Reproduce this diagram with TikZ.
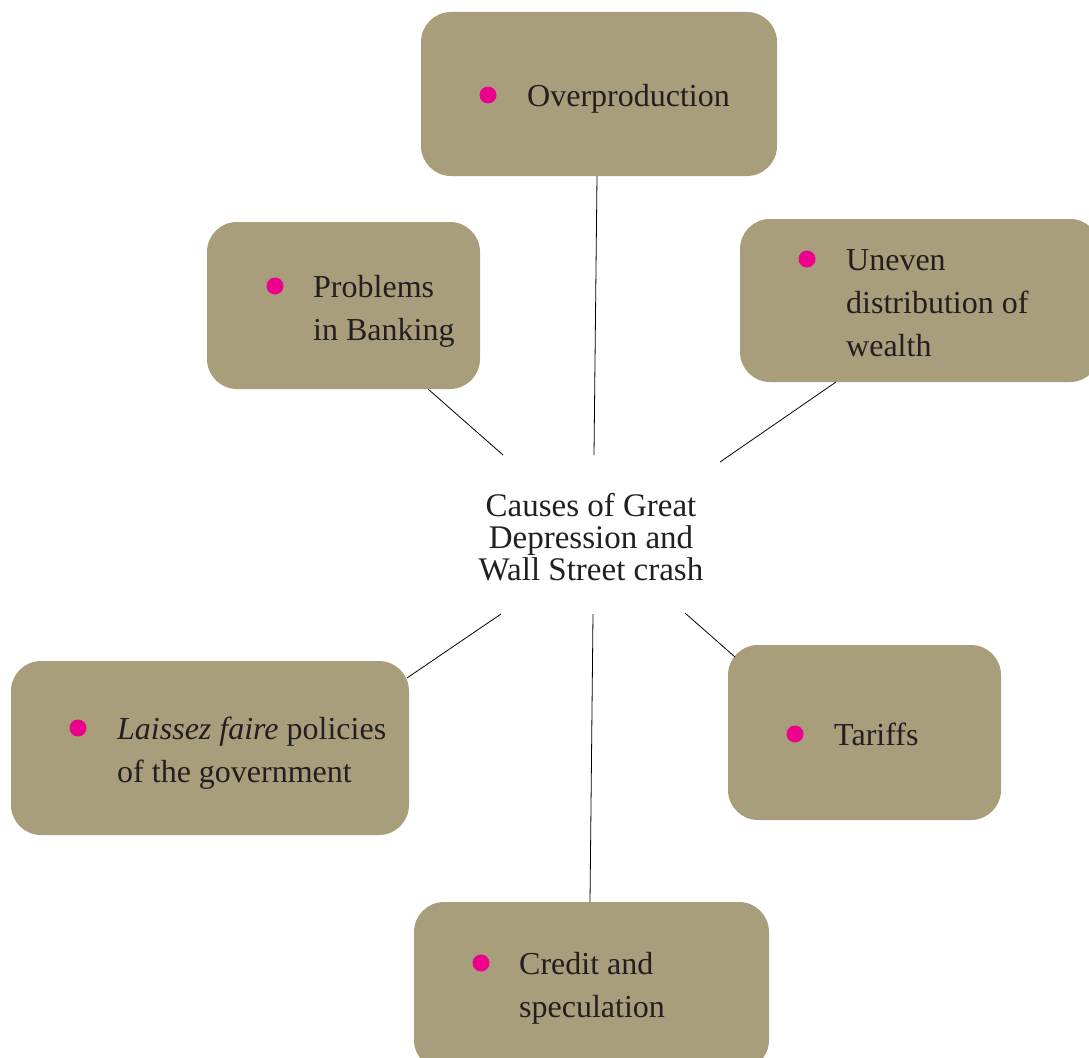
\documentclass[tikz,border=0pt]{standalone}
\usepackage{fontspec}
\setmainfont{Liberation Serif}
\definecolor{boxfill}{HTML}{A89E7C}
\definecolor{bulletc}{HTML}{EC008C}
\definecolor{txt}{HTML}{231F20}
\begin{document}
\begin{tikzpicture}[x=1pt,y=-1pt,
  causebox/.style={fill=boxfill, rounded corners=30pt, inner sep=0pt},
  bul/.style={circle, fill=bulletc, inner sep=0pt, minimum size=17pt},
  label/.style={anchor=base west, inner sep=0pt, align=left, text=txt,
    font=\fontsize{32}{43}\selectfont},
  conn/.style={draw=black, line width=0.8pt}]
\useasboundingbox (0,0) rectangle (1089,1057);
% boxes
\path[causebox] (421,12) rectangle (777,176);
\coordinate (overB) at (597,176);
\path[causebox] (207,222) rectangle (480,389);
\coordinate (bankB) at (428,389);
\path[causebox] (740,219) rectangle (1100,382);
\coordinate (unevB) at (836,382);
\path[causebox] (11,661) rectangle (409,835);
\coordinate (laisT) at (407,678);
\path[causebox] (728,645) rectangle (1001,820);
\coordinate (tarT) at (735,657);
\path[causebox] (414,902) rectangle (769,1070);
\coordinate (credT) at (590,902);
% bullets and texts (base anchor = baseline of last line)
\node[bul] (b1) at (488,95) {};
\node[label] (t1) at (527,106) {Overproduction};
\node[bul] (b2) at (275,286) {};
\node[label] (t2) at (313,340) {Problems\\in Banking};
\node[bul] (b3) at (807,259) {};
\node[label] (t3) at (846,356) {Uneven\\distribution of\\wealth};
\node[bul] (b4) at (78,728) {};
\node[label] (t4) at (117,782) {\textit{Laissez faire} policies\\of the government};
\node[bul] (b5) at (795,734) {};
\node[label] (t5) at (834,745) {Tariffs};
\node[bul] (b6) at (481,963) {};
\node[label] (t6) at (519,1017) {Credit and\\speculation};
% centre
\node[anchor=base, align=center, inner sep=0pt, text=txt,
  font=\fontsize{33}{32}\selectfont] (centre) at (591,580)
  {Causes of Great\\Depression and\\Wall Street crash};
\coordinate (c1) at (594,455);
\coordinate (c2) at (503,455);
\coordinate (c3) at (720,462);
\coordinate (c4) at (501,614);
\coordinate (c5) at (685,613);
\coordinate (c6) at (593,614);
% connectors
\draw[conn] (overB) -- (c1);
\draw[conn] (bankB) -- (c2);
\draw[conn] (unevB) -- (c3);
\draw[conn] (laisT) -- (c4);
\draw[conn] (tarT) -- (c5);
\draw[conn] (credT) -- (c6);
\end{tikzpicture}
\end{document}
